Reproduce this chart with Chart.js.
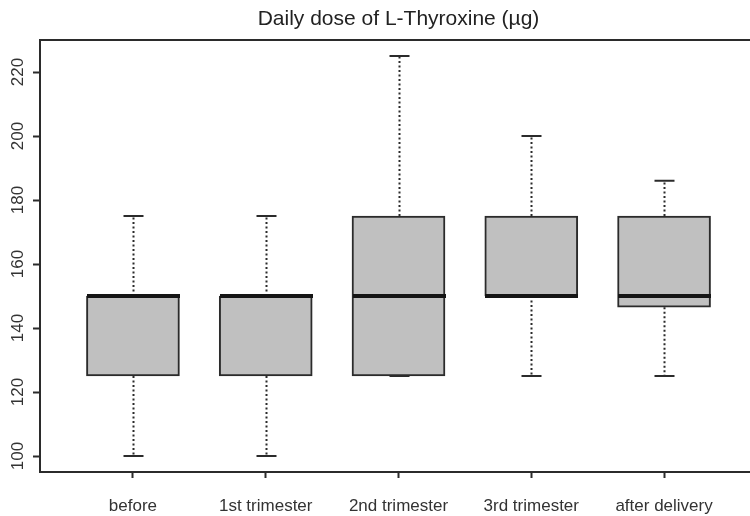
<!DOCTYPE html>
<html>
<head>
<meta charset="utf-8">
<script src="https://cdn.jsdelivr.net/npm/chart.js@4"></script>
<style>
  html, body { margin: 0; padding: 0; background: #fff; overflow: hidden; }
  #wrap { width: 750px; height: 516px; overflow: hidden; }
</style>
</head>
<body>
<div id="wrap"><canvas id="c" width="757" height="516"></canvas></div>
<script>
const categories = ['before', '1st trimester', '2nd trimester', '3rd trimester', 'after delivery'];
const whiskerLow  = [100, 100, 125, 125, 125];
const q1          = [125, 125, 125, 150, 146.5];
const medians     = [150, 150, 150, 150, 150];
const q3          = [150, 150, 175, 175, 175];
const whiskerHigh = [175, 175, 225, 200, 186];
const yTicks = [100, 120, 140, 160, 180, 200, 220];
const titleText = 'Daily dose of L-Thyroxine (\u00b5g)';

const BOX_W = 93;
const STAPLE_W = 20;
const INK = '#2b2b2b';
const FONT = "'Liberation Sans', Arial, sans-serif";

const boxData = categories.map((c, i) => ({ x: i + 1, y: [q1[i], q3[i]] }));

const boxPlugin = {
  id: 'boxExtras',
  afterDatasetsDraw(chart) {
    const ctx = chart.ctx;
    const xs = chart.scales.x, ys = chart.scales.y;
    ctx.save();
    categories.forEach((c, i) => {
      const cx = Math.round(xs.getPixelForValue(i + 1)) + 0.5;
      // whiskers (dotted)
      ctx.strokeStyle = INK;
      ctx.lineWidth = 2;
      ctx.setLineDash([2, 2.5]);
      ctx.beginPath();
      ctx.moveTo(cx, ys.getPixelForValue(q3[i]));
      ctx.lineTo(cx, ys.getPixelForValue(whiskerHigh[i]));
      ctx.moveTo(cx, ys.getPixelForValue(q1[i]));
      ctx.lineTo(cx, ys.getPixelForValue(whiskerLow[i]));
      ctx.stroke();
      ctx.setLineDash([]);
      // staples
      ctx.beginPath();
      [whiskerHigh[i], whiskerLow[i]].forEach(v => {
        const y = ys.getPixelForValue(v);
        ctx.moveTo(cx - STAPLE_W / 2, y);
        ctx.lineTo(cx + STAPLE_W / 2, y);
      });
      ctx.stroke();
      // median
      ctx.strokeStyle = '#151515';
      ctx.lineWidth = 4;
      ctx.beginPath();
      const ym = ys.getPixelForValue(medians[i]);
      ctx.moveTo(cx - BOX_W / 2, ym);
      ctx.lineTo(cx + BOX_W / 2, ym);
      ctx.stroke();
    });
    // frame
    const a = chart.chartArea;
    ctx.strokeStyle = INK;
    ctx.lineWidth = 2;
    ctx.strokeRect(a.left, a.top, a.right - a.left, a.bottom - a.top);
    // rotated y labels
    ctx.fillStyle = '#333';
    ctx.font = "17px " + FONT;
    ctx.textAlign = 'center';
    ctx.textBaseline = 'middle';
    yTicks.forEach(v => {
      const y = ys.getPixelForValue(v);
      ctx.save();
      ctx.translate(18, y);
      ctx.rotate(-Math.PI / 2);
      ctx.fillText(String(v), 0, 0);
      ctx.restore();
    });
    ctx.restore();
  }
};

new Chart(document.getElementById('c'), {
  type: 'bar',
  data: {
    datasets: [{
      data: boxData,
      backgroundColor: '#c0c0c0',
      borderColor: INK,
      borderWidth: 2,
      borderSkipped: false,
      barThickness: BOX_W
    }]
  },
  options: {
    responsive: false,
    animation: false,
    events: [],
    layout: { padding: { left: 0, right: 0, top: 0, bottom: 0 } },
    plugins: {
      legend: { display: false },
      tooltip: { enabled: false },
      title: {
        display: true,
        text: titleText,
        fullSize: false,
        color: '#222',
        font: { family: FONT, size: 21, weight: 'normal', lineHeight: 1.2 },
        padding: { top: 7, bottom: 7.8 }
      }
    },
    scales: {
      x: {
        type: 'linear',
        min: 0.3,
        max: 5.7,
        offset: false,
        afterBuildTicks: (axis) => { axis.ticks = categories.map((c, i) => ({ value: i + 1 })); },
        afterFit: (axis) => { axis.height = 44; },
        ticks: {
          autoSkip: false,
          maxRotation: 0,
          minRotation: 0,
          padding: 18,
          color: '#333',
          font: { family: FONT, size: 17 },
          callback: (v) => categories[Math.round(v) - 1] || ''
        },
        grid: { drawOnChartArea: false, offset: false, drawTicks: true, tickLength: 6, tickWidth: 2, tickColor: INK },
        border: { display: true, color: INK, width: 2 }
      },
      y: {
        type: 'linear',
        min: 95,
        max: 230,
        afterBuildTicks: (axis) => { axis.ticks = yTicks.map(v => ({ value: v })); },
        afterFit: (axis) => { axis.width = 40; },
        ticks: { color: 'rgba(0,0,0,0)', font: { family: FONT, size: 17 }, padding: 2 },
        grid: { drawOnChartArea: false, drawTicks: true, tickLength: 7, tickWidth: 2, tickColor: INK },
        border: { display: true, color: INK, width: 2 }
      }
    }
  },
  plugins: [boxPlugin]
});
</script>
</body>
</html>
